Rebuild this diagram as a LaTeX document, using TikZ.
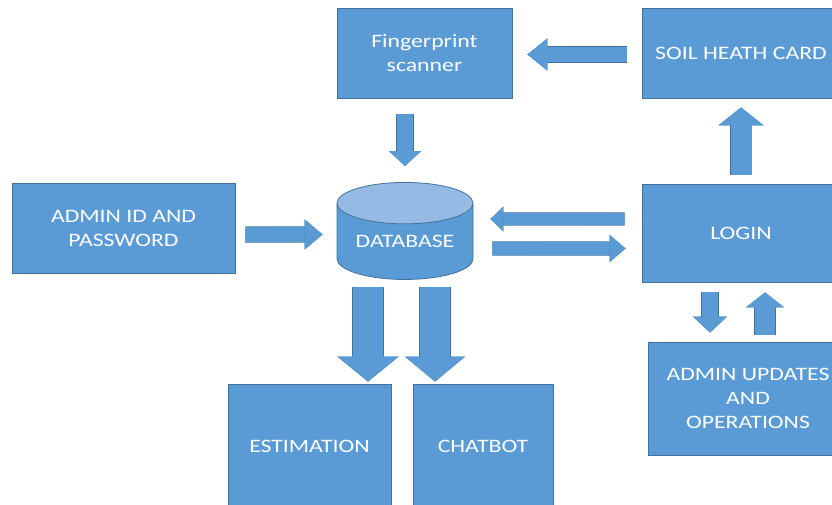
\documentclass[tikz,border=0pt]{standalone}
\usepackage{fontspec}
\setmainfont{Carlito}[FakeStretch=1.25]
\usepackage{tikz}
\usetikzlibrary{arrows.meta, positioning, shapes.geometric, calc}
\definecolor{boxblue}{HTML}{5B9BD5}
\definecolor{edgeblue}{HTML}{41719C}
\definecolor{topblue}{HTML}{95BBE4}
\tikzset{%
   % filled blue block with white caps text
   box/.style={
      rectangle,
      draw=edgeblue,
      fill=boxblue,
      line width=.8pt,
      text=white,
      align=center,
      inner sep=0pt,
      font=\fontsize{19}{24}\selectfont
   },
   dbnode/.style={
      cylinder,
      shape border rotate=90,
      aspect=.42,
      draw=edgeblue,
      line width=.8pt,
      cylinder uses custom fill,
      cylinder body fill=boxblue,
      cylinder end fill=topblue,
      text=white,
      inner sep=0pt,
      font=\fontsize{19}{24}\selectfont
   },
   % block arrow: shaft width, head width, head length
   blk/.style n args={3}{
      preaction={draw=edgeblue, line width=#1pt+1.4pt,
         -{Triangle[length=#3pt, width=#2pt, line width=1.4pt]}},
      draw=boxblue,
      line width=#1pt,
      -{Triangle[length=#3pt, width=#2pt, line width=0pt]}
   },
}

\begin{document}
\begin{tikzpicture}[x=1pt, y=-1pt]
    \useasboundingbox (0,0) rectangle (832,505);
    \node[box, minimum width=175, minimum height=90] (fp) at (424.5,53) {Fingerprint\\scanner};
    \node[box, minimum width=198, minimum height=90] (soil) at (741,53) {SOIL HEATH CARD};
    \node[box, minimum width=223, minimum height=90] (admin) at (123.5,228) {ADMIN ID AND\\PASSWORD};
    \node[dbnode, minimum width=136, minimum height=97] (db) at (405,241.5) {DATABASE};
    \node[box, minimum width=198, minimum height=98] (login) at (741,233) {LOGIN};
    \node[box, minimum width=200, minimum height=113] (upd) at (748,398.5) {ADMIN UPDATES\\AND\\OPERATIONS};
    \node[box, minimum width=163, minimum height=124] (est) at (309.5,446) {ESTIMATION};
    \node[box, minimum width=140, minimum height=124] (chat) at (483,446) {CHATBOT};
    % top row and database links
    \draw[blk={15}{32}{20}] ($(soil.west)+(-15,1.5)$) -- ($(fp.east)+(15,1.5)$);
    \draw[blk={16}{32}{15}] ($(fp.south)+(-19.5,16)$) -- ($(db.north)+(0,-16)$);
    \draw[blk={15}{30}{18}] ($(admin.east)+(10,6.5)$) -- ($(db.west)+(-14,-7)$);
    \draw[blk={12}{25}{13}] ($(login.west)+(-17,-14)$) -- ($(db.east)+(17,-22.5)$);
    \draw[blk={13}{27}{16}] ($(db.east)+(19,7)$) -- ($(login.west)+(-16,15.5)$);
    % login links
    \draw[blk={21}{45}{18}] ($(login.north)+(0,-9)$) -- ($(soil.south)+(0,9)$);
    \draw[blk={16}{34}{16}] ($(login.south)+(-31,10)$) -- ($(upd.north)+(-38,-9)$);
    \draw[blk={20}{38}{15}] ($(upd.north)+(17,-7)$) -- ($(login.south)+(24,10)$);
    % outputs
    \draw[blk={30}{61}{25}] ($(db.south)+(-37,7)$) -- ($(est.north)+(58.5,-2)$);
    \draw[blk={30}{60}{25}] ($(db.south)+(30,7)$) -- ($(chat.north)+(-48,-2)$);
\end{tikzpicture}
\end{document}
